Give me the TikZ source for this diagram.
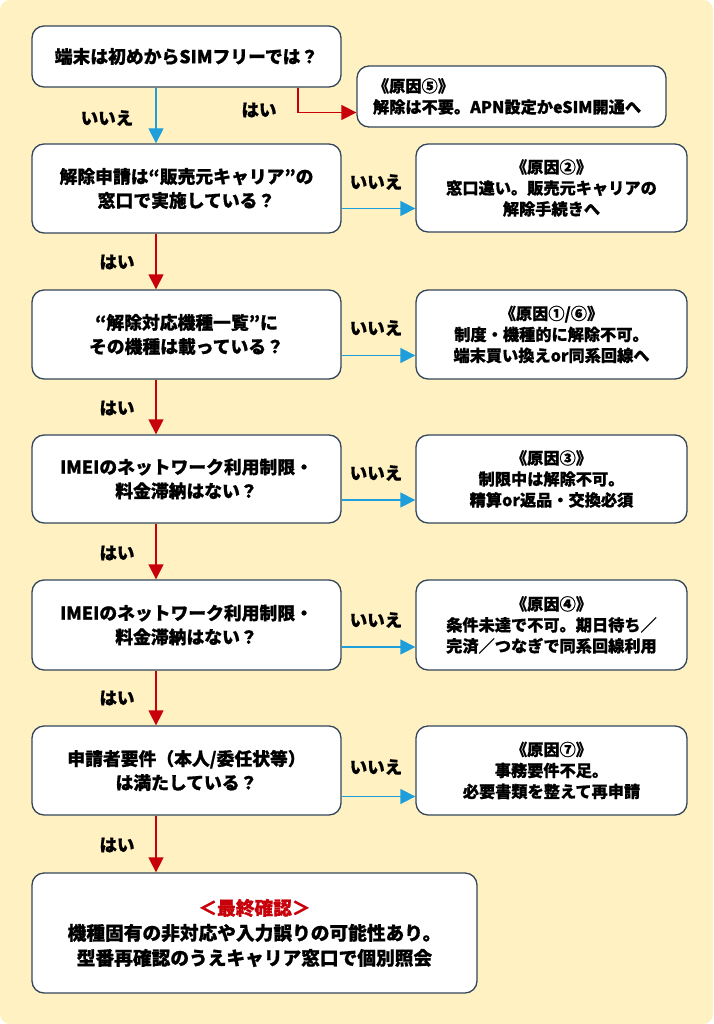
\documentclass[tikz,border=0pt]{standalone}
\usepackage{fontspec}
\setmainfont{Noto Sans CJK JP}[BoldFeatures={FakeBold=0.8}]
\usetikzlibrary{arrows.meta,calc}
\definecolor{bgyellow}{HTML}{FFF1C2}
\definecolor{boxline}{HTML}{34465A}
\definecolor{yesred}{HTML}{C8000A}
\definecolor{noblue}{HTML}{1E9FDC}
\tikzset{
  qbox/.style={draw=boxline, line width=1.3pt, fill=white, rounded corners=12pt, minimum width=309pt, align=center, font=\bfseries\fontsize{17.8}{24}\selectfont, inner sep=0pt},
  rbox/.style={draw=boxline, line width=1.3pt, fill=white, rounded corners=12pt, minimum width=271pt, minimum height=88pt, align=center, font=\bfseries\fontsize{16.2}{21}\selectfont, inner sep=0pt},
  yesarrow/.style={draw=yesred, line width=1.3pt, -{Triangle[length=15pt,width=15pt]}},
  noarrow/.style={draw=noblue, line width=1.3pt, -{Triangle[length=15pt,width=15pt]}},
  lbl/.style={font=\bfseries\fontsize{17.5}{18}\selectfont, inner sep=0pt}
}
\begin{document}
\begin{tikzpicture}[x=1pt,y=-1pt]
\useasboundingbox (0,0) rectangle (713,1024);
\fill[bgyellow, rounded corners=10pt] (0,0) rectangle (713,1024);
% left question boxes
\node[qbox, minimum height=61pt] (b1) at (186.5,56.5) {端末は初めからSIMフリーでは？};
\node[qbox, minimum height=89pt] (b2) at (186.5,188.5) {解除申請は“販売元キャリア”の\\窓口で実施している？};
\node[qbox, minimum height=89pt] (b3) at (186.5,334.5) {“解除対応機種一覧”に\\その機種は載っている？};
\node[qbox, minimum height=88pt] (b4) at (186.5,479) {IMEIのネットワーク利用制限・\\料金滞納はない？};
\node[qbox, minimum height=90pt] (b5) at (186.5,625) {IMEIのネットワーク利用制限・\\料金滞納はない？};
\node[qbox, minimum height=89pt] (b6) at (186.5,770.5) {申請者要件（本人/委任状等）\\は満たしている？};
\node[qbox, minimum width=445pt, minimum height=120pt, font=\bfseries\fontsize{18.7}{25}\selectfont] (fin) at (254.5,933) {{\color{yesred}＜最終確認＞}\\機種固有の非対応や入力誤りの可能性あり。\\型番再確認のうえキャリア窓口で個別照会};
% right cause boxes
\node[rbox, minimum width=309pt, minimum height=61pt, align=left, text width=277pt] (r5) at (511.5,96.5) {《原因⑤》\\解除は不要。APN設定かeSIM開通へ};
\node[rbox] (r2) at (551.5,188) {《原因②》\\窓口違い。販売元キャリアの\\解除手続きへ};
\node[rbox, minimum height=89pt] (r3) at (551.5,334.5) {《原因①/⑥》\\制度・機種的に解除不可。\\端末買い換えor同系回線へ};
\node[rbox] (r4) at (551.5,479) {《原因③》\\制限中は解除不可。\\精算or返品・交換必須};
\node[rbox, minimum height=90pt] (r5b) at (551.5,625) {《原因④》\\条件未達で不可。期日待ち／\\完済／つなぎで同系回線利用};
\node[rbox, minimum height=89pt] (r6) at (551.5,770.5) {《原因⑦》\\事務要件不足。\\必要書類を整えて再申請};
% connectors
\draw[noarrow] ([xshift=-30.5pt]b1.south) -- ([xshift=-30.5pt]b1.south |- b2.north);
\draw[yesarrow] ([xshift=111.5pt]b1.south) |- ([yshift=-16pt]r5.west);
\draw[yesarrow] ([xshift=-30.5pt]b2.south) -- ([xshift=-30.5pt]b2.south |- b3.north);
\draw[yesarrow] ([xshift=-30.5pt]b3.south) -- ([xshift=-30.5pt]b3.south |- b4.north);
\draw[yesarrow] ([xshift=-30.5pt]b4.south) -- ([xshift=-30.5pt]b4.south |- b5.north);
\draw[yesarrow] ([xshift=-30.5pt]b5.south) -- ([xshift=-30.5pt]b5.south |- b6.north);
\draw[yesarrow] ([xshift=-30.5pt]b6.south) -- ([xshift=-30.5pt]b6.south |- fin.north);
\draw[noarrow] ([yshift=-20pt]b2.east) -- ([yshift=-20pt]b2.east -| r2.west);
\draw[noarrow] ([yshift=-21pt]b3.east) -- ([yshift=-21pt]b3.east -| r3.west);
\draw[noarrow] ([yshift=-21pt]b4.east) -- ([yshift=-21pt]b4.east -| r4.west);
\draw[noarrow] ([yshift=-22pt]b5.east) -- ([yshift=-22pt]b5.east -| r5b.west);
\draw[noarrow] ([yshift=-26pt]b6.east) -- ([yshift=-26pt]b6.east -| r6.west);
% labels
\node[lbl] (l1) at (107,118) {いいえ};
\node[lbl] (l2) at (259,110) {はい};
\node[lbl] (l3) at (376,182) {いいえ};
\node[lbl] (l4) at (117,262) {はい};
\node[lbl] (l5) at (376,328) {いいえ};
\node[lbl] (l6) at (117,408) {はい};
\node[lbl] (l7) at (376,473) {いいえ};
\node[lbl] (l8) at (117,553) {はい};
\node[lbl] (l9) at (376,620) {いいえ};
\node[lbl] (l10) at (117,698) {はい};
\node[lbl] (l11) at (376,767) {いいえ};
\node[lbl] (l12) at (117,845) {はい};
\end{tikzpicture}
\end{document}
